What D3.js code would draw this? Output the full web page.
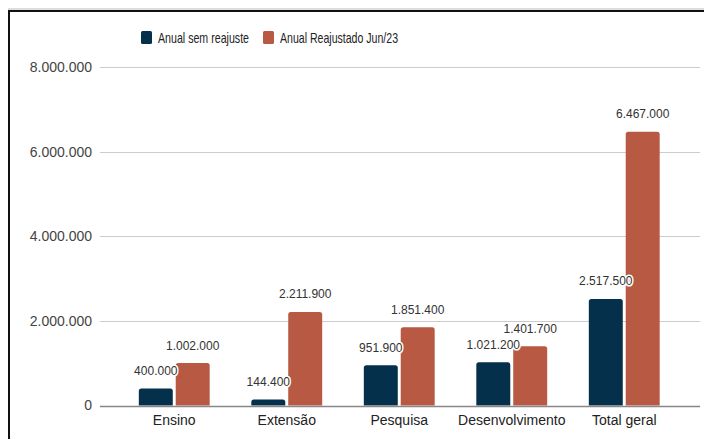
<!DOCTYPE html>
<html>
<head>
<meta charset="utf-8">
<script src="https://cdn.jsdelivr.net/npm/d3@7"></script>
<style>
  html, body { margin: 0; padding: 0; background: #fff; }
  svg { display: block; font-family: "Liberation Sans", Arial, sans-serif; }
</style>
</head>
<body>
<svg id="chart" width="704" height="439"></svg>
<script>
// dados
const categories = ["Ensino", "Extensão", "Pesquisa", "Desenvolvimento", "Total geral"];
const seriesNames = ["Anual sem reajuste", "Anual Reajustado Jun/23"];
const semReajuste = [400000, 144400, 951900, 1021200, 2517500];
const reajustado = [1002000, 2211900, 1851400, 1401700, 6467000];
const yTicks = [0, 2000000, 4000000, 6000000, 8000000];
const colors = ["#05304b", "#b85a43"];

const svg = d3.select("#chart");
const W = 704, H = 439;

// moldura (borda superior e esquerda, como no recorte)
svg.append("line").attr("x1", 8).attr("x2", W).attr("y1", 9).attr("y2", 9)
  .attr("stroke", "#bbb").attr("stroke-width", 1);
svg.append("line").attr("x1", 8).attr("x2", W).attr("y1", 11).attr("y2", 11)
  .attr("stroke", "#111").attr("stroke-width", 2);
svg.append("line").attr("x1", 9).attr("x2", 9).attr("y1", 10).attr("y2", H)
  .attr("stroke", "#111").attr("stroke-width", 2);

const fmt = v => d3.format(",")(v).replace(/,/g, ".");

const x0 = d3.scaleBand().domain(categories).range([118, 680.5])
  .paddingInner(0.37).paddingOuter(0.185);
const x1 = d3.scaleBand().domain(seriesNames).range([0, x0.bandwidth()]).paddingInner(0.08);
const y = d3.scaleLinear().domain([0, 8000000]).range([405.5, 67]);

const gridLeft = 100, gridRight = 700;

// grade
svg.append("g").selectAll("line").data(yTicks.filter(t => t > 0)).join("line")
  .attr("x1", gridLeft).attr("x2", gridRight)
  .attr("y1", d => Math.round(y(d)) + 0.5).attr("y2", d => Math.round(y(d)) + 0.5)
  .attr("stroke", "#cccccc").attr("stroke-width", 1);

// rótulos do eixo y
svg.append("g").selectAll("text").data(yTicks).join("text")
  .attr("x", 92).attr("y", d => y(d)).attr("dy", "0.35em")
  .attr("text-anchor", "end").attr("font-size", 14).attr("fill", "#444")
  .text(fmt);

// barras
const series = [semReajuste, reajustado];
const groups = svg.append("g").selectAll("g").data(categories).join("g")
  .attr("transform", d => `translate(${x0(d)},0)`);

function barPath(xl, w, top, bottom, r) {
  return `M${xl},${bottom}V${top + r}Q${xl},${top} ${xl + r},${top}H${xl + w - r}Q${xl + w},${top} ${xl + w},${top + r}V${bottom}Z`;
}

groups.selectAll("path").data((c, i) => series.map((s, k) => ({ k, v: s[i] }))).join("path")
  .attr("d", d => barPath(x1(seriesNames[d.k]), x1.bandwidth(), y(d.v), y(0), 2.5))
  .attr("fill", d => colors[d.k]);

// rótulos de valor com halo branco
groups.selectAll("text").data((c, i) => series.map((s, k) => ({ k, v: s[i] }))).join("text")
  .attr("x", d => x1(seriesNames[d.k]) + x1.bandwidth() / 2)
  .attr("y", d => y(d.v) - 13.5)
  .attr("text-anchor", "middle").attr("font-size", 12).attr("fill", "#333")
  .attr("stroke", "#fff").attr("stroke-width", 3).attr("paint-order", "stroke")
  .attr("stroke-linejoin", "round")
  .text(d => fmt(d.v));

// linha de base
svg.append("line").attr("x1", gridLeft).attr("x2", gridRight)
  .attr("y1", Math.round(y(0)) + 0.5).attr("y2", Math.round(y(0)) + 0.5)
  .attr("stroke", "#888").attr("stroke-width", 1.5);

// rótulos das categorias
svg.append("g").selectAll("text").data(categories).join("text")
  .attr("x", d => x0(d) + x0.bandwidth() / 2).attr("y", 425)
  .attr("text-anchor", "middle").attr("font-size", 14).attr("fill", "#222")
  .text(d => d);

// legenda
const legend = [
  { name: seriesNames[0], x: 141, w: 91 },
  { name: seriesNames[1], x: 263, w: 118 }
];
const lg = svg.append("g").selectAll("g").data(legend).join("g")
  .attr("transform", d => `translate(${d.x},31)`);
lg.append("rect").attr("width", 11).attr("height", 13).attr("rx", 1.5)
  .attr("fill", (d, i) => colors[i]);
lg.append("text").attr("x", 17).attr("y", 11.5)
  .attr("font-size", 15).attr("fill", "#222")
  .attr("textLength", d => d.w).attr("lengthAdjust", "spacingAndGlyphs")
  .text(d => d.name);
</script>
</body>
</html>
